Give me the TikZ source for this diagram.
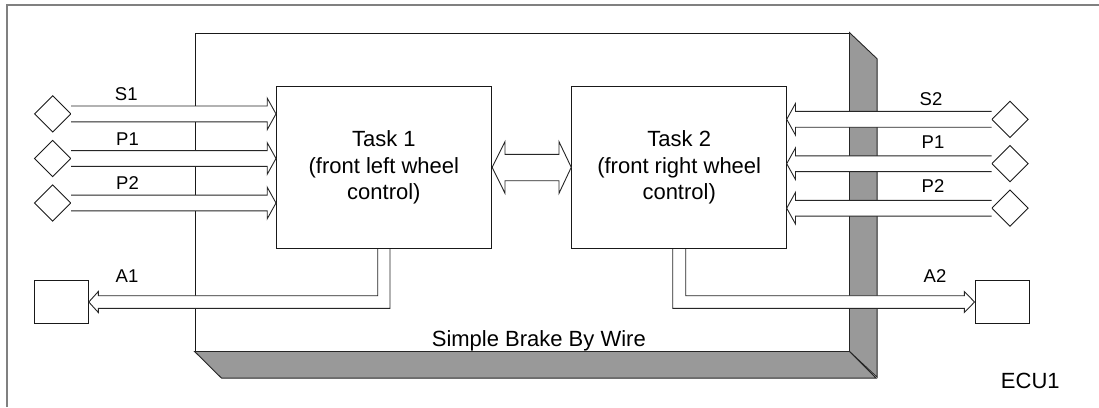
\documentclass[tikz,border=0pt]{standalone}
\usepackage{fontspec}
\setmainfont{Liberation Sans}
\usetikzlibrary{shapes.geometric}
\tikzset{
  box/.style={draw=black!90, fill=white, line width=0.9pt, inner sep=0pt},
  fat/.style={draw=black!85, fill=white, line width=0.9pt, line join=miter},
  shadeface/.style={draw=black!85, fill=black!40, line width=0.9pt, line join=miter},
  frame/.style={draw=black!50, line width=1.2pt},
  pin/.style={draw=black!90, fill=white, line width=0.9pt, diamond, inner sep=0pt, minimum width=36.6pt, minimum height=36.6pt},
  lbl/.style={font=\fontsize{18.5}{22}\selectfont, anchor=base, inner sep=0pt},
  big/.style={font=\fontsize{22}{26.7}\selectfont, align=center},
}
% horizontal fat arrow: #1 start x, #2 tip x, #3 centre y, #4 direction (+1 right, -1 left)
\newcommand\fatarrow[4]{%
  \draw[fat] (#1,#3-7.9) -- ({#2-#4*8.8},#3-7.9) -- ({#2-#4*8.8},#3-15.8) -- (#2,#3)
    -- ({#2-#4*8.8},#3+15.8) -- ({#2-#4*8.8},#3+7.9) -- (#1,#3+7.9);}
\begin{document}
\begin{tikzpicture}[x=1pt,y=-1pt]
\useasboundingbox (0,0) rectangle (1099,407);
% outer frame
\draw[frame] (7,407) -- (7,5) -- (1099,5);
% ECU body (3D box)
\node[draw=black!90, fill=white, line width=0.9pt, minimum width=654pt, minimum height=318pt, inner sep=0pt] (ecu) at (522,192) {};
\draw[shadeface] (ecu.north east) -- ++(27.7,26.3) -- ++(0,318.4) -- (ecu.south east) -- cycle;
\draw[shadeface] (ecu.south west) -- ++(27,26.7) -- ++(654.7,0) -- (ecu.south east) -- cycle;
\node[big, anchor=base, inner sep=0pt] (sbw) at (538.8,346.7) {Simple Brake By Wire};
\node[big, anchor=base, inner sep=0pt] (ecuname) at (1030.3,388.3) {ECU1};
% tasks
\node[box, big, minimum width=215.7pt, minimum height=161.6pt] (t1) at (383.85,167.5) {Task 1\\(front left wheel\\control)};
\node[box, big, minimum width=215pt, minimum height=161.6pt] (t2) at (679.2,167.5) {Task 2\\(front right wheel\\control)};
% sensors left
\node[pin] (s1l) at (52.7,113.9) {};
\node[pin] (p1l) at (52.7,158.5) {};
\node[pin] (p2l) at (52.7,203) {};
\fatarrow{71}{276}{113.9}{1}
\fatarrow{71}{276}{158.5}{1}
\fatarrow{71}{276}{203}{1}
\node[lbl] (ls1) at (126.3,100.7) {S1};
\node[lbl] (lp1) at (127.5,145) {P1};
\node[lbl] (lp2) at (127.5,189.3) {P2};
% sensors right
\node[pin] (s2r) at (1010,119.3) {};
\node[pin] (p1r) at (1010,163.7) {};
\node[pin] (p2r) at (1010,208.2) {};
\fatarrow{991.7}{786.7}{119.3}{-1}
\fatarrow{991.7}{786.7}{163.7}{-1}
\fatarrow{991.7}{786.7}{208.2}{-1}
\node[lbl] (ls2) at (931,105) {S2};
\node[lbl] (rp1) at (933,148.5) {P1};
\node[lbl] (rp2) at (933,192) {P2};
% double arrow between tasks
\draw[fat] (t1.east |- 0,167.3) -- (505,141.7) -- (505,154.3) -- (559,154.3) -- (559,141.7)
  -- (t2.west |- 0,167.3) -- (559,193.3) -- (559,180.7) -- (505,180.7) -- (505,193.3) -- cycle;
% actuators
\node[box, minimum width=54.3pt, minimum height=42.6pt] (a1) at (61.2,302) {};
\node[box, minimum width=54pt, minimum height=42.6pt] (a2) at (1002,302) {};
\draw[fat] (377.7,249) -- (377.7,295.7) -- (98.3,295.7) -- (98.3,291.5) -- (a1.east |- 0,302)
  -- (98.3,312.5) -- (98.3,308.3) -- (390,308.3) -- (390,249);
\draw[fat] (685.7,249) -- (685.7,295.7) -- (964.3,295.7) -- (964.3,291.5) -- (a2.west |- 0,302)
  -- (964.3,312.5) -- (964.3,308.3) -- (672.7,308.3) -- (672.7,249);
\node[lbl] (la1) at (127,282.7) {A1};
\node[lbl] (la2) at (935,282.3) {A2};
\end{tikzpicture}
\end{document}
